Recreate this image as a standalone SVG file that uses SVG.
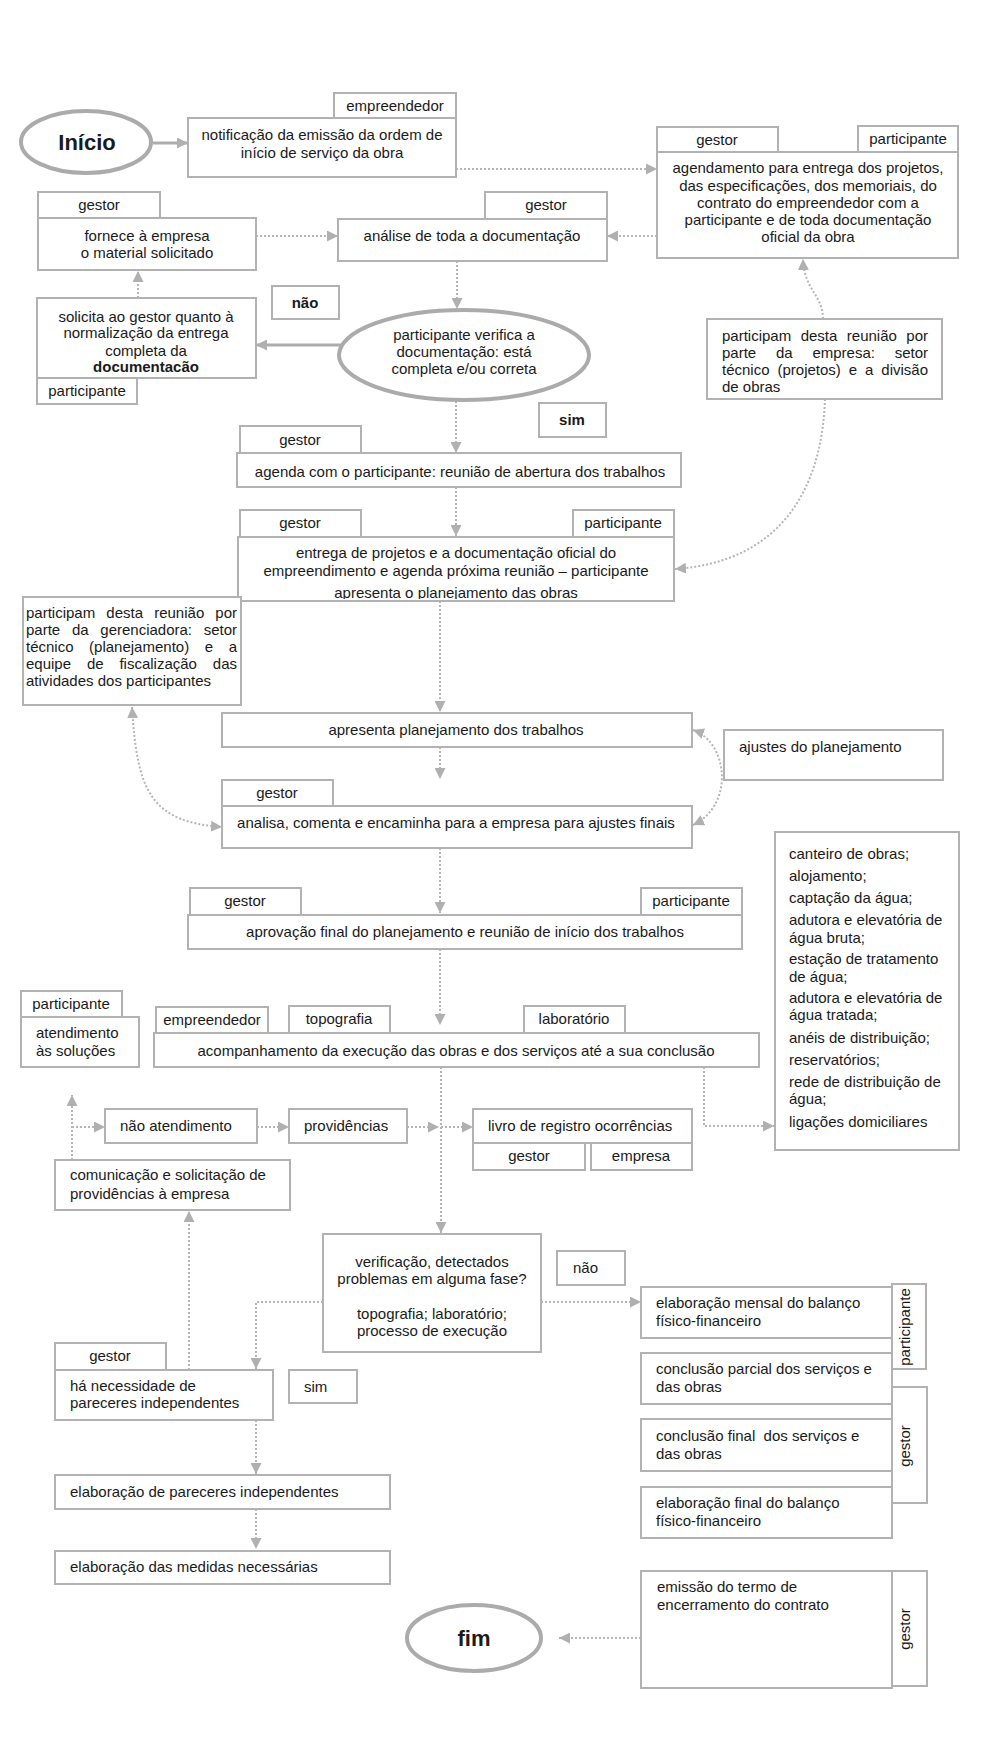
<svg xmlns="http://www.w3.org/2000/svg" width="1000" height="1757" viewBox="0 0 1000 1757">
<style>
.b{fill:#fff;stroke:#b2b2b2;stroke-width:2}
.e{fill:#fff;stroke:#ababab;stroke-width:4}
text{font-family:"Liberation Sans",Arial,sans-serif;font-size:15px;fill:#1a1a1a}
.c{text-anchor:middle}
.k{font-weight:bold}
.big{font-size:22px;font-weight:bold}
.d{fill:none;stroke:#b5b5b5;stroke-width:2;stroke-dasharray:2 2}
.s{fill:none;stroke:#adadad;stroke-width:3}
</style>
<defs>
<marker id="a" viewBox="0 0 10 10" refX="10" refY="5" markerWidth="11" markerHeight="11" markerUnits="userSpaceOnUse" orient="auto-start-reverse"><path d="M0,0 L10,5 L0,10 z" fill="#b0b0b0"/></marker>
<clipPath id="clipE"><rect x="238" y="537" width="436" height="62"/></clipPath>
</defs>
<rect width="1000" height="1757" fill="#fff"/>

<g id="connectors">
<path class="s" d="M153 143 H188" marker-end="url(#a)"/>
<path class="d" d="M456 169 H657" marker-end="url(#a)"/>
<path class="d" d="M657 236 H607" marker-end="url(#a)"/>
<path class="d" d="M256 236 H338" marker-end="url(#a)"/>
<path class="d" d="M457 261 V309" marker-end="url(#a)"/>
<path class="s" d="M344 345 H256" marker-end="url(#a)"/>
<path class="d" d="M138 298 V271" marker-end="url(#a)"/>
<path class="d" d="M456 401 V453" marker-end="url(#a)"/>
<path class="d" d="M823 319 C823 295 804 290 803 259" marker-end="url(#a)"/>
<path class="d" d="M825 399 C822 490 780 562 675 569" marker-end="url(#a)"/>
<path class="d" d="M456 487 V536" marker-end="url(#a)"/>
<path class="d" d="M440 601 V712" marker-end="url(#a)"/>
<path class="d" d="M440 747 V779" marker-end="url(#a)"/>
<path class="d" d="M132 707 C137 790 150 822 222 827" marker-start="url(#a)" marker-end="url(#a)"/>
<path class="d" d="M693 730 C728 742 735 805 693 825" marker-start="url(#a)" marker-end="url(#a)"/>
<path class="d" d="M440 848 V913" marker-end="url(#a)"/>
<path class="d" d="M440 949 V1025" marker-end="url(#a)"/>
<path class="d" d="M441 1067 V1233" marker-end="url(#a)"/>
<path class="d" d="M704 1067 V1126 H774" marker-end="url(#a)"/>
<path class="d" d="M257 1127 H289" marker-end="url(#a)"/>
<path class="d" d="M407 1127 H439" marker-end="url(#a)"/>
<path class="d" d="M441 1127 H473" marker-end="url(#a)"/>
<path class="d" d="M72 1160 V1095" marker-end="url(#a)"/>
<path class="d" d="M72 1127 H105" marker-end="url(#a)"/>
<path class="d" d="M189 1370 V1211" marker-end="url(#a)"/>
<path class="d" d="M323 1302 H256 V1369" marker-end="url(#a)"/>
<path class="d" d="M541 1302 H641" marker-end="url(#a)"/>
<path class="d" d="M256 1420 V1474" marker-end="url(#a)"/>
<path class="d" d="M256 1509 V1549" marker-end="url(#a)"/>
<path class="d" d="M641 1638 H559" marker-end="url(#a)"/>
</g>

<g id="inicio">
<ellipse class="e" cx="86" cy="142" rx="65" ry="31"/>
<text class="c big" x="87" y="150">Início</text>
</g>

<g id="notificacao">
<rect class="b" x="334" y="93" width="122" height="25"/>
<text class="c" x="395" y="111">empreendedor</text>
<rect class="b" x="188" y="118" width="268" height="59"/>
<text class="c" x="322" y="140">notificação da emissão da ordem de</text>
<text class="c" x="322" y="158">início de serviço da obra</text>
</g>

<g id="agendamento">
<rect class="b" x="657" y="127" width="121" height="26"/>
<text class="c" x="717" y="145">gestor</text>
<rect class="b" x="858" y="126" width="100" height="26"/>
<text class="c" x="908" y="144">participante</text>
<rect class="b" x="657" y="152" width="301" height="106"/>
<text class="c" x="808" y="173">agendamento para entrega dos projetos,</text>
<text class="c" x="808" y="191">das especificações, dos memoriais, do</text>
<text class="c" x="808" y="208">contrato do empreendedor com a</text>
<text class="c" x="808" y="225">participante e de toda documentação</text>
<text class="c" x="808" y="242">oficial da obra</text>
</g>

<g id="fornece">
<rect class="b" x="38" y="192" width="122" height="26"/>
<text class="c" x="99" y="210">gestor</text>
<rect class="b" x="38" y="218" width="218" height="52"/>
<text class="c" x="147" y="241">fornece à empresa</text>
<text class="c" x="147" y="258">o material solicitado</text>
</g>

<g id="analise">
<rect class="b" x="485" y="192" width="122" height="27"/>
<text class="c" x="546" y="210">gestor</text>
<rect class="b" x="338" y="219" width="269" height="42"/>
<text class="c" x="472" y="241">análise de toda a documentação</text>
</g>

<g id="solicita">
<rect class="b" x="37" y="298" width="219" height="80"/>
<text class="c" x="146" y="322">solicita ao gestor quanto à</text>
<text class="c" x="146" y="338">normalização da entrega</text>
<text class="c" x="146" y="356">completa da</text>
<text class="c k" x="146" y="372">documentacão</text>
<rect class="b" x="37" y="378" width="100" height="26"/>
<text class="c" x="87" y="396">participante</text>
</g>

<g id="nao1">
<rect class="b" x="272" y="286" width="67" height="33"/>
<text class="c k" x="305" y="308">não</text>
</g>

<g id="verifica">
<ellipse class="e" cx="464" cy="355" rx="125" ry="45"/>
<text class="c" x="464" y="340">participante verifica a</text>
<text class="c" x="464" y="357">documentação: está</text>
<text class="c" x="464" y="374">completa e/ou correta</text>
</g>

<g id="empresa-reuniao">
<rect class="b" x="707" y="319" width="235" height="80"/>
<text y="341"><tspan x="722">participam</tspan><tspan x="800.7">desta</tspan><tspan x="846.8">reunião</tspan><tspan x="906.3">por</tspan></text>
<text y="358"><tspan x="722">parte</tspan><tspan x="775.9">da</tspan><tspan x="812.4">empresa:</tspan><tspan x="894.7">setor</tspan></text>
<text y="375"><tspan x="722">técnico</tspan><tspan x="777.5">(projetos)</tspan><tspan x="848.8">e</tspan><tspan x="865">a</tspan><tspan x="881.3">divisão</tspan></text>
<text x="722" y="392">de obras</text>
</g>

<g id="sim1">
<rect class="b" x="539" y="403" width="67" height="34"/>
<text class="c k" x="572" y="425">sim</text>
</g>

<g id="agenda">
<rect class="b" x="240" y="426" width="121" height="27"/>
<text class="c" x="300" y="445">gestor</text>
<rect class="b" x="237" y="453" width="444" height="34"/>
<text class="c" x="460" y="477">agenda com o participante: reunião de abertura dos trabalhos</text>
</g>

<g id="entrega">
<rect class="b" x="240" y="510" width="121" height="27"/>
<text class="c" x="300" y="528">gestor</text>
<rect class="b" x="573" y="510" width="101" height="27"/>
<text class="c" x="623" y="528">participante</text>
<rect class="b" x="238" y="537" width="436" height="64"/>
<g clip-path="url(#clipE)">
<text class="c" x="456" y="558">entrega de projetos e a documentação oficial do</text>
<text class="c" x="456" y="576">empreendimento e agenda próxima reunião – participante</text>
<text class="c" x="456" y="598">apresenta o planejamento das obras</text>
</g>
</g>

<g id="gerenciadora">
<rect class="b" x="23" y="597" width="218" height="108"/>
<text y="618"><tspan x="26">participam</tspan><tspan x="106.3">desta</tspan><tspan x="154.2">reunião</tspan><tspan x="215.3">por</tspan></text>
<text y="635"><tspan x="26">parte</tspan><tspan x="71.9">da</tspan><tspan x="100.3">gerenciadora:</tspan><tspan x="203.7">setor</tspan></text>
<text y="652"><tspan x="26">técnico</tspan><tspan x="89.1">(planejamento)</tspan><tspan x="204.7">e</tspan><tspan x="228.7">a</tspan></text>
<text y="669"><tspan x="26">equipe</tspan><tspan x="86.9">de</tspan><tspan x="119.4">fiscalização</tspan><tspan x="212.8">das</tspan></text>
<text x="26" y="686">atividades dos participantes</text>
</g>

<g id="apresenta">
<rect class="b" x="222" y="713" width="470" height="34"/>
<text class="c" x="456" y="735">apresenta planejamento dos trabalhos</text>
</g>

<g id="ajustes">
<rect class="b" x="724" y="730" width="219" height="50"/>
<text x="739" y="752">ajustes do planejamento</text>
</g>

<g id="analisa">
<rect class="b" x="222" y="780" width="111" height="26"/>
<text class="c" x="277" y="798">gestor</text>
<rect class="b" x="222" y="806" width="470" height="42"/>
<text class="c" x="456" y="828">analisa, comenta e encaminha para a empresa para ajustes finais</text>
</g>

<g id="lista">
<rect class="b" x="775" y="832" width="184" height="318"/>
<text x="789" y="859">canteiro de obras;</text>
<text x="789" y="881">alojamento;</text>
<text x="789" y="903">captação da água;</text>
<text x="789" y="925">adutora e elevatória de</text>
<text x="789" y="943">água bruta;</text>
<text x="789" y="964">estação de tratamento</text>
<text x="789" y="982">de água;</text>
<text x="789" y="1003">adutora e elevatória de</text>
<text x="789" y="1020">água tratada;</text>
<text x="789" y="1043">anéis de distribuição;</text>
<text x="789" y="1065">reservatórios;</text>
<text x="789" y="1087">rede de distribuição de</text>
<text x="789" y="1104">água;</text>
<text x="789" y="1127">ligações domiciliares</text>
</g>

<g id="aprovacao">
<rect class="b" x="190" y="888" width="111" height="27"/>
<text class="c" x="245" y="906">gestor</text>
<rect class="b" x="641" y="888" width="101" height="27"/>
<text class="c" x="691" y="906">participante</text>
<rect class="b" x="188" y="915" width="554" height="34"/>
<text class="c" x="465" y="937">aprovação final do planejamento e reunião de início dos trabalhos</text>
</g>

<g id="atendimento">
<rect class="b" x="21" y="991" width="101" height="26"/>
<text class="c" x="71" y="1009">participante</text>
<rect class="b" x="21" y="1017" width="118" height="50"/>
<text x="36" y="1038">atendimento</text>
<text x="36" y="1056">às soluções</text>
</g>

<g id="acompanhamento">
<rect class="b" x="156" y="1007" width="112" height="26"/>
<text class="c" x="212" y="1025">empreendedor</text>
<rect class="b" x="289" y="1006" width="101" height="27"/>
<text class="c" x="339" y="1024">topografia</text>
<rect class="b" x="524" y="1006" width="101" height="27"/>
<text class="c" x="574" y="1024">laboratório</text>
<rect class="b" x="154" y="1033" width="605" height="34"/>
<text class="c" x="456" y="1056">acompanhamento da execução das obras e dos serviços até a sua conclusão</text>
</g>

<g id="nao-atendimento">
<rect class="b" x="105" y="1109" width="152" height="34"/>
<text x="120" y="1131">não atendimento</text>
</g>

<g id="providencias">
<rect class="b" x="289" y="1109" width="118" height="34"/>
<text x="304" y="1131">providências</text>
</g>

<g id="livro">
<rect class="b" x="473" y="1109" width="219" height="34"/>
<text x="488" y="1131">livro de registro ocorrências</text>
<rect class="b" x="473" y="1143" width="112" height="27"/>
<text class="c" x="529" y="1161">gestor</text>
<rect class="b" x="591" y="1143" width="101" height="27"/>
<text class="c" x="641" y="1161">empresa</text>
</g>

<g id="comunicacao">
<rect class="b" x="55" y="1160" width="235" height="50"/>
<text x="70" y="1180">comunicação e solicitação de</text>
<text x="70" y="1199">providências à empresa</text>
</g>

<g id="verificacao">
<rect class="b" x="323" y="1234" width="218" height="118"/>
<text class="c" x="432" y="1267">verificação, detectados</text>
<text class="c" x="432" y="1284">problemas em alguma fase?</text>
<text class="c" x="432" y="1319">topografia; laboratório;</text>
<text class="c" x="432" y="1336">processo de execução</text>
</g>

<g id="nao2">
<rect class="b" x="557" y="1251" width="68" height="34"/>
<text x="573" y="1273">não</text>
</g>

<g id="necessidade">
<rect class="b" x="55" y="1343" width="111" height="27"/>
<text class="c" x="110" y="1361">gestor</text>
<rect class="b" x="55" y="1370" width="218" height="50"/>
<text x="70" y="1391">há necessidade de</text>
<text x="70" y="1408">pareceres independentes</text>
</g>

<g id="sim2">
<rect class="b" x="289" y="1370" width="68" height="33"/>
<text x="304" y="1392">sim</text>
</g>

<g id="pareceres">
<rect class="b" x="55" y="1475" width="335" height="34"/>
<text x="70" y="1497">elaboração de pareceres independentes</text>
</g>

<g id="medidas">
<rect class="b" x="55" y="1551" width="335" height="33"/>
<text x="70" y="1572">elaboração das medidas necessárias</text>
</g>

<g id="mensal">
<rect class="b" x="892" y="1284" width="34" height="85"/>
<text class="c" transform="translate(910,1327) rotate(-90)">participante</text>
<rect class="b" x="641" y="1287" width="251" height="51"/>
<text x="656" y="1308">elaboração mensal do balanço</text>
<text x="656" y="1326">físico-financeiro</text>
</g>

<g id="gestor-tab">
<rect class="b" x="892" y="1387" width="35" height="116"/>
<text class="c" transform="translate(910,1446) rotate(-90)">gestor</text>
</g>

<g id="parcial">
<rect class="b" x="641" y="1353" width="251" height="51"/>
<text x="656" y="1374">conclusão parcial dos serviços e</text>
<text x="656" y="1392">das obras</text>
</g>

<g id="final">
<rect class="b" x="641" y="1419" width="251" height="52"/>
<text x="656" y="1441" xml:space="preserve">conclusão final  dos serviços e</text>
<text x="656" y="1459">das obras</text>
</g>

<g id="balanco-final">
<rect class="b" x="641" y="1487" width="251" height="51"/>
<text x="656" y="1508">elaboração final do balanço</text>
<text x="656" y="1526">físico-financeiro</text>
</g>

<g id="emissao">
<rect class="b" x="892" y="1571" width="35" height="115"/>
<text class="c" transform="translate(910,1629) rotate(-90)">gestor</text>
<rect class="b" x="641" y="1571" width="251" height="117"/>
<text x="657" y="1592">emissão do termo de</text>
<text x="657" y="1610">encerramento do contrato</text>
</g>

<g id="fim">
<ellipse class="e" cx="474" cy="1638" rx="67" ry="33"/>
<text class="c big" x="474" y="1646">fim</text>
</g>
</svg>
